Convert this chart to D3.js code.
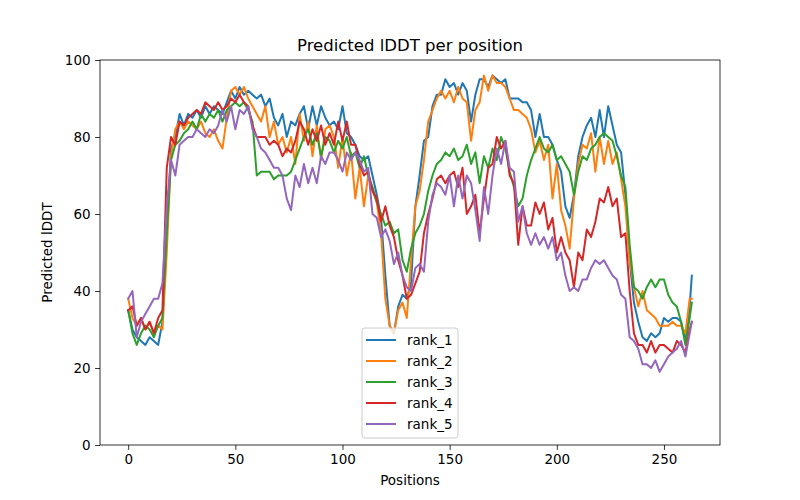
<!DOCTYPE html>
<html>
<head>
<meta charset="utf-8">
<script src="https://cdn.jsdelivr.net/npm/d3@7"></script>
<style>
  body { margin: 0; background: #fff; }
  text { font-family: "DejaVu Sans", sans-serif; fill: #000; }
  .axis text { font-size: 13.5px; }
  .axis path, .axis line { stroke: #000; stroke-width: 0.8; }
</style>
</head>
<body>
<div class="chart"></div>
<script>
// sampled every 2 positions, plus the last one (263)
const positions = d3.range(0, 263, 2).concat([263]);

const rank_1 = [35,30,28,27,26,28,27,26,32,55,77,80,86,83,86,85,87,85,88,86,88,87,86,89,92,90,93,91,92,91,90,91,88,90,85,83,86,80,84,83,86,88,82,88,83,88,85,83,84,82,88,81,80,78,75,74,75,70,65,59,44,31,29,36,39,38,42,62,70,79,80,88,91,91,95,93,94,91,94,92,84,91,95,95,93,96,95,94,95,90,90,90,89,89,87,80,86,80,80,78,74,71,62,59,65,75,80,83,85,80,87,80,88,83,78,76,65,48,37,32,28,27,29,28,29,33,32,33,33,32,27,36,44];
const rank_2 = [38,33,31,33,30,32,29,31,30,50,75,82,84,82,84,83,82,84,81,80,82,79,77,85,92,93,91,93,90,88,86,84,88,80,84,78,80,76,80,73,86,79,84,75,83,74,82,83,80,72,80,70,76,64,72,62,70,66,63,55,38,31,29,35,37,33,48,62,66,74,84,87,90,92,90,92,89,93,90,89,79,87,89,96,92,96,94,94,93,90,87,87,86,85,82,76,79,74,78,64,73,61,57,51,64,73,78,77,81,71,80,73,79,73,76,69,62,48,41,36,40,35,34,33,31,31,31,32,31,31,29,38,38];
const rank_3 = [35,29,26,29,31,30,28,31,33,55,74,78,79,81,82,84,82,86,84,86,85,87,84,87,88,89,88,89,87,84,70,71,71,71,69,70,70,70,71,74,77,80,82,78,81,75,80,79,76,79,77,80,75,76,72,75,70,67,63,60,57,58,55,56,48,45,51,55,57,60,66,70,73,74,76,75,77,74,75,78,73,76,68,75,72,77,74,80,77,71,67,62,64,70,74,77,80,77,76,78,74,75,73,71,65,71,75,74,77,78,80,81,80,79,75,70,67,52,41,40,38,41,43,41,43,43,39,37,36,32,26,33,37];
const rank_4 = [35,36,31,33,30,32,29,33,35,72,80,78,84,83,85,86,87,86,89,88,87,89,87,88,90,89,91,89,88,83,80,80,80,78,79,78,75,77,76,79,84,82,78,82,79,83,78,81,78,84,79,84,78,78,73,70,71,66,64,58,62,57,54,48,44,38,39,42,45,55,60,64,69,70,68,70,71,67,72,60,62,65,55,64,72,73,80,77,79,70,68,52,62,57,57,63,60,63,56,59,50,54,50,48,41,50,48,56,54,58,64,63,67,62,64,54,55,40,29,26,26,24,27,24,26,26,25,24,27,26,24,30,32];
const rank_5 = [38,40,28,32,34,36,38,38,42,62,74,70,78,79,80,80,82,81,80,82,81,83,87,84,88,82,87,86,88,82,80,77,76,74,72,72,70,64,61,70,67,73,68,72,68,75,73,76,76,74,71,76,74,76,74,71,72,60,59,54,56,53,47,50,44,41,40,46,47,45,58,65,68,67,65,70,62,70,64,70,68,61,53,67,60,70,77,73,79,72,71,58,62,55,52,55,52,54,51,54,48,50,44,40,41,40,43,43,46,48,47,48,46,44,43,39,38,28,27,25,21,21,20,22,19,21,23,24,25,27,23,29,32];

const seriesNames = ["rank_1", "rank_2", "rank_3", "rank_4", "rank_5"];
const seriesValues = [rank_1, rank_2, rank_3, rank_4, rank_5];
const xTicks = [0, 50, 100, 150, 200, 250];
const yTicks = [0, 20, 40, 60, 80, 100];

const margin = ({top: 60, right: 80, bottom: 55, left: 100});
const w = 800 - margin.left - margin.right,
      h = 500 - margin.top - margin.bottom;

const svg = d3.select(".chart")
    .append("svg")
    .attr("width", 800)
    .attr("height", 500)
    .append("g")
    .attr("transform", "translate(" + margin.left + "," + margin.top + ")");

// matplotlib style 5% padding on x
const xExtent = d3.extent(positions);
const xPad = (xExtent[1] - xExtent[0]) * 0.05;
const xScale = d3.scaleLinear()
    .domain([xExtent[0] - xPad, xExtent[1] + xPad])
    .range([0, w]);

const yScale = d3.scaleLinear()
    .domain([0, 100])
    .range([h, 0]);

// matplotlib tab10 colours
const colors = d3.scaleOrdinal()
    .domain(seriesNames)
    .range(["#1f77b4", "#ff7f0e", "#2ca02c", "#d62728", "#9467bd"]);

const line = d3.line()
    .x(d => xScale(d[0]))
    .y(d => yScale(d[1]));

seriesNames.forEach((name, i) => {
    const pts = positions.map((p, j) => [p, seriesValues[i][j]]);
    svg.append("path")
        .datum(pts)
        .attr("fill", "none")
        .attr("stroke", colors(name))
        .attr("stroke-width", 2)
        .attr("stroke-linejoin", "round")
        .attr("stroke-linecap", "square")
        .attr("d", line);
});

// axes
const xAxis = d3.axisBottom(xScale).tickValues(xTicks).tickSize(4.9).tickPadding(4.5).tickSizeOuter(0);
const yAxis = d3.axisLeft(yScale).tickValues(yTicks).tickSize(4.9).tickPadding(4.5).tickSizeOuter(0);

svg.append("g")
    .attr("class", "axis x-axis")
    .attr("transform", `translate(0, ${h})`)
    .call(xAxis)
    .call(g => g.select(".domain").remove());

svg.append("g")
    .attr("class", "axis y-axis")
    .call(yAxis)
    .call(g => g.select(".domain").remove());

svg.selectAll(".axis text").attr("font-family", "DejaVu Sans").attr("font-size", 13.5);

// frame
svg.append("rect")
    .attr("x", 0).attr("y", 0)
    .attr("width", w).attr("height", h)
    .attr("fill", "none")
    .attr("stroke", "#000")
    .attr("stroke-width", 0.8);

// title & labels
svg.append("text")
    .attr("x", w / 2)
    .attr("y", -9)
    .attr("text-anchor", "middle")
    .attr("font-size", 16.5)
    .text("Predicted lDDT per position");

svg.append("text")
    .attr("x", w / 2)
    .attr("y", h + 40)
    .attr("text-anchor", "middle")
    .attr("font-size", 13.5)
    .text("Positions");

svg.append("text")
    .attr("transform", `translate(${-48}, ${h / 2}) rotate(-90)`)
    .attr("text-anchor", "middle")
    .attr("font-size", 13.5)
    .text("Predicted lDDT");

// legend
const legend = svg.append("g")
    .attr("transform", "translate(262, 268)");

legend.append("rect")
    .attr("width", 96)
    .attr("height", 110)
    .attr("rx", 3)
    .attr("fill", "#fff")
    .attr("fill-opacity", 0.8)
    .attr("stroke", "#ccc")
    .attr("stroke-width", 1);

seriesNames.forEach((name, i) => {
    const yy = 12 + i * 21;
    legend.append("line")
        .attr("x1", 4).attr("x2", 34)
        .attr("y1", yy).attr("y2", yy)
        .attr("stroke", colors(name))
        .attr("stroke-width", 2);
    legend.append("text")
        .attr("x", 45)
        .attr("y", yy + 5)
        .attr("font-size", 13.5)
        .text(name);
});
</script>
</body>
</html>
